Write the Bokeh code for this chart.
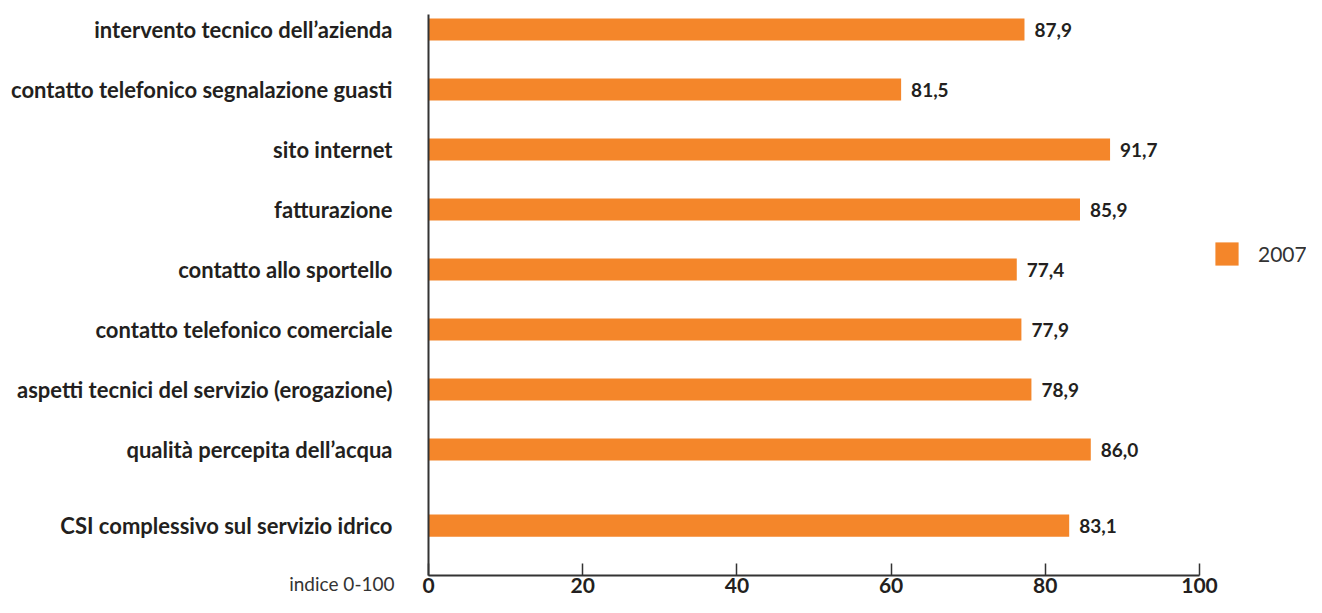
from bokeh.plotting import figure
from bokeh.models import Range1d, FixedTicker, ColumnDataSource, Legend, LegendItem, Label
from bokeh.embed import file_html
from bokeh.resources import INLINE
from bokeh.core.properties import value

# ---- data (top to bottom) ----
categories = [
    "intervento tecnico dell\u2019azienda",
    "contatto telefonico segnalazione guasti",
    "sito internet",
    "fatturazione",
    "contatto allo sportello",
    "contatto telefonico comerciale",
    "aspetti tecnici del servizio (erogazione)",
    "qualit\u00e0 percepita dell\u2019acqua",
    "CSI complessivo sul servizio idrico",
]
bar_values = [77.3, 61.3, 88.4, 84.5, 76.3, 76.9, 78.2, 85.9, 83.1]
value_labels = ["87,9", "81,5", "91,7", "85,9", "77,4", "77,9", "78,9", "86,0", "83,1"]
series_name = "2007"
x_ticks = [0, 20, 40, 60, 80, 100]
axis_note = "indice 0-100"

# ---- style / layout ----
ORANGE = "#F4862A"
TEXT = "#231F20"
AXIS = "#333333"
FONT = "Lato"
LAST_GAP = 1.27      # extra spacing before the summary row
W, H = 1306, 597
LEFT_PX = 428        # screen position of x = 0
PX_PER_X = 7.71
STEP_PX = 60.0       # pixels per row
TOP_PX = 29          # centre of first row
BOTTOM_PAD = 0.83    # rows between last bar and x axis
AXIS_TOP = -0.25     # top end of the vertical axis line

n = len(categories)
positions = [float(i) for i in range(n - 1)] + [n - 2 + LAST_GAP]
x_axis_at = positions[-1] + BOTTOM_PAD

src = ColumnDataSource(dict(y=positions, v=bar_values, lab=value_labels, cat=categories))

p = figure(
    width=W, height=H, title=None,
    output_backend="svg", toolbar_location=None,
    x_range=Range1d(-LEFT_PX / PX_PER_X, (W - LEFT_PX) / PX_PER_X),
    y_range=Range1d((H - TOP_PX) / STEP_PX, -TOP_PX / STEP_PX),
    min_border_left=0, min_border_right=0, min_border_top=0, min_border_bottom=0,
)
p.outline_line_color = None
p.grid.visible = False
p.background_fill_color = "white"
p.border_fill_color = "white"

r = p.hbar(y="y", left=0, right="v", height=0.37, source=src,
           fill_color=ORANGE, line_color=None)

p.text(x="v", y="y", text="lab", source=src, x_offset=10,
       text_baseline="middle", text_align="left",
       text_font=value(FONT), text_font_style="bold",
       text_font_size="19px", text_color=TEXT)

# x axis
xa = p.xaxis[0]
xa.fixed_location = x_axis_at
xa.ticker = FixedTicker(ticks=x_ticks)
xa.bounds = (0, 100)
xa.axis_line_color = AXIS
xa.axis_line_width = 2
xa.major_tick_in = 12
xa.major_tick_out = 0
xa.major_tick_line_color = AXIS
xa.major_tick_line_width = 1.5
xa.minor_tick_line_color = None
xa.major_label_standoff = 2
xa.major_label_text_font = FONT
xa.major_label_text_font_style = "bold"
xa.major_label_text_font_size = "21px"
xa.major_label_text_color = TEXT

# y axis
ya = p.yaxis[0]
ya.fixed_location = 0
ya.bounds = (AXIS_TOP, x_axis_at)
ya.ticker = FixedTicker(ticks=positions)
ya.major_label_overrides = {pos: c for pos, c in zip(positions, categories)}
ya.axis_line_color = AXIS
ya.axis_line_width = 2
ya.major_tick_line_color = None
ya.minor_tick_line_color = None
ya.major_tick_in = 0
ya.major_tick_out = 0
ya.major_label_standoff = 36
ya.major_label_text_font = FONT
ya.major_label_text_font_style = "bold"
ya.major_label_text_font_size = "22px"
ya.major_label_text_color = TEXT

legend = Legend(
    items=[LegendItem(label=series_name, renderers=[r])],
    location=(1212, 329),
    glyph_width=29, glyph_height=29, label_standoff=17,
    label_text_font=FONT, label_text_font_size="21px", label_text_color=AXIS,
    padding=0, margin=0, spacing=0,
    border_line_color=None, background_fill_alpha=0,
)
p.add_layout(legend)

note = Label(x=-34 / PX_PER_X, y=x_axis_at + 8 / STEP_PX,
             text=axis_note, text_align="right", text_baseline="middle",
             text_font=FONT, text_font_size="19px", text_color=AXIS)
p.add_layout(note)

open("out.html", "w").write(file_html(p, INLINE))
